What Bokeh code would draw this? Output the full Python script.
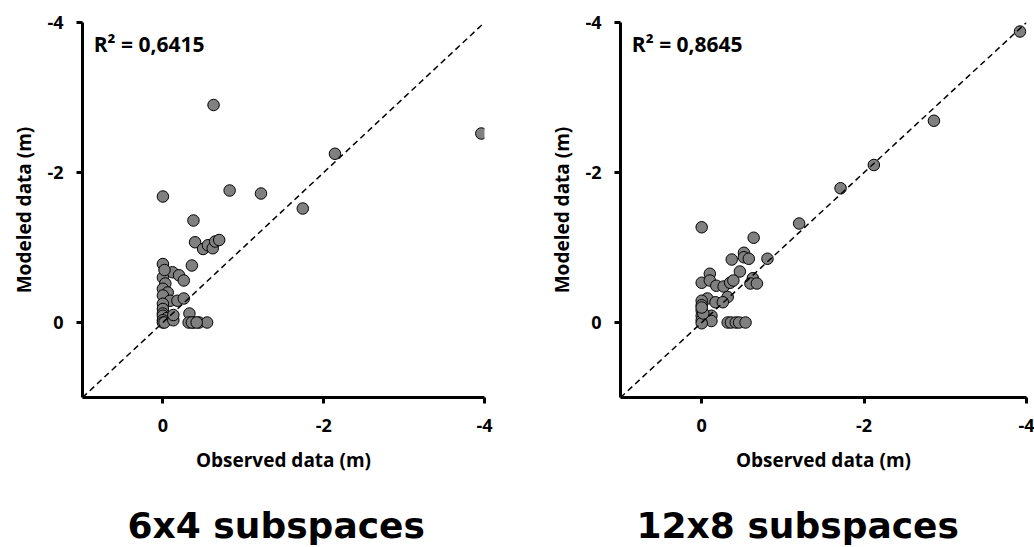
from bokeh.plotting import figure
from bokeh.models import Range1d, FixedTicker, Label, ColumnDataSource
from bokeh.layouts import row, column
from bokeh.embed import file_html
from bokeh.resources import INLINE

# ---- data (observed vs modeled, metres) ----
obs_6x4 = [-3.96, -2.14, -1.74, -1.22, -0.83, -0.63, 0.00, -0.38,
           -0.40, -0.50, -0.56, -0.62, -0.65, -0.70, -0.36,
           0.00, -0.12, -0.20, -0.26, 0.00, -0.03, -0.02, 0.00, -0.06, 0.00,
           -0.09, -0.18, -0.26, 0.00, 0.00, 0.00, 0.00, -0.05, 0.00, 0.00,
           -0.02, -0.13, -0.13, -0.33, -0.32, -0.38, -0.45, -0.55, -0.36, -0.42]
mod_6x4 = [-2.52, -2.25, -1.52, -1.72, -1.76, -2.90, -1.68, -1.36,
           -1.07, -0.98, -1.03, -0.99, -1.08, -1.10, -0.76,
           -0.78, -0.67, -0.63, -0.56, -0.60, -0.52, -0.70, -0.45, -0.40, -0.36,
           -0.29, -0.29, -0.32, -0.25, -0.18, -0.12, -0.09, -0.06, -0.03, 0.00,
           0.00, -0.03, -0.10, -0.12, 0.00, 0.00, 0.00, 0.00, 0.00, 0.00]

obs_12x8 = [-3.92, -2.86, -2.12, -1.71, -1.20, -0.81, 0.00, -0.64,
            -0.52, -0.37, -0.52, -0.58, -0.47, -0.10, 0.00, -0.10,
            -0.18, -0.27, -0.35, -0.39, -0.63, -0.60, -0.68, -0.32,
            -0.07, -0.17, -0.26, 0.00, 0.00, 0.00, 0.00, -0.12,
            0.00, -0.12, -0.32, -0.36, -0.42, -0.46, -0.54, 0.00, -0.02, 0.00]
mod_12x8 = [-3.88, -2.69, -2.10, -1.79, -1.32, -0.85, -1.27, -1.13,
            -0.93, -0.84, -0.87, -0.85, -0.68, -0.65, -0.53, -0.56,
            -0.49, -0.48, -0.53, -0.56, -0.59, -0.52, -0.52, -0.34,
            -0.32, -0.27, -0.27, -0.29, -0.23, -0.16, -0.09, -0.09,
            -0.03, -0.02, 0.00, 0.00, 0.00, 0.00, 0.00, 0.01, -0.12, -0.20]

r2_labels = ["R\u00b2 = 0,6415", "R\u00b2 = 0,8645"]
panel_titles = ["6x4 subspaces", "12x8 subspaces"]
tick_values = [-4, -2, 0]
tick_labels = ["-4", "-2", "0"]
axis_limits = [1, -4]
one_to_one = [1, -4]

FONT = "Open Sans"
PLOT_H = 490
CAP_H = 57


def make_panel(obs, mod, r2, width, mbl, mbr):
    p = figure(width=width, height=PLOT_H,
               x_range=Range1d(axis_limits[0], axis_limits[1]),
               y_range=Range1d(axis_limits[0], axis_limits[1]),
               output_backend="svg", toolbar_location=None,
               min_border_left=mbl, min_border_right=mbr,
               min_border_top=22, min_border_bottom=93)
    p.grid.visible = False
    p.outline_line_color = None
    p.background_fill_color = "white"
    p.border_fill_color = "white"

    for ax in (p.xaxis[0], p.yaxis[0]):
        ax.ticker = FixedTicker(ticks=tick_values)
        ax.major_label_overrides = dict(zip(tick_values, tick_labels))
        ax.minor_tick_line_color = None
        ax.axis_line_width = 3
        ax.axis_line_color = "black"
        ax.major_tick_line_width = 3
        ax.major_tick_line_color = "black"
        ax.major_tick_in = 0
        ax.major_tick_out = 6
        ax.major_label_text_font = FONT
        ax.major_label_text_font_style = "bold"
        ax.major_label_text_font_size = "18px"
        ax.major_label_text_color = "black"
        ax.axis_label_text_font = FONT
        ax.axis_label_text_font_style = "bold"
        ax.axis_label_text_font_size = "19px"
        ax.axis_label_text_color = "black"

    p.xaxis[0].axis_label = "Observed data (m)"
    p.xaxis[0].major_label_standoff = 15
    p.xaxis[0].axis_label_standoff = 12
    p.yaxis[0].axis_label = "Modeled data (m)"
    p.yaxis[0].major_label_standoff = 13
    p.yaxis[0].axis_label_standoff = 7

    src = ColumnDataSource(dict(x=obs, y=mod))
    p.scatter("x", "y", source=src, size=11.5, fill_color="#808080",
              line_color="black", line_width=1)

    p.line(one_to_one, one_to_one, line_color="black", line_width=1.5,
           line_dash="6 4")

    p.add_layout(Label(x=0.86, y=-3.72, text=r2, text_font=FONT,
                       text_font_style="bold", text_font_size="21px",
                       text_baseline="middle", text_align="left",
                       text_color="black"))
    return p


def make_caption(title, width, left):
    c = figure(width=width, height=CAP_H, output_backend="svg",
               toolbar_location=None, x_axis_type=None, y_axis_type=None,
               min_border=0, min_border_left=0, min_border_right=0,
               min_border_top=0, min_border_bottom=0)
    c.grid.visible = False
    c.outline_line_color = None
    c.border_fill_color = "white"
    c.background_fill_color = "white"
    c.add_layout(Label(x=left, y=22, x_units="screen", y_units="screen",
                       text=title, text_font="DejaVu Sans",
                       text_font_style="bold", text_font_size="36px",
                       text_align="left", text_baseline="alphabetic",
                       text_color="black"))
    return c


p1 = make_panel(obs_6x4, mod_6x4, r2_labels[0], 538, 82, 54)
p2 = make_panel(obs_12x8, mod_12x8, r2_labels[1], 496, 82, 8)
c1 = make_caption(panel_titles[0], 538, 127)
c2 = make_caption(panel_titles[1], 496, 98)

layout = column(row(p1, p2), row(c1, c2))
open("out.html", "w").write(file_html(layout, INLINE))
